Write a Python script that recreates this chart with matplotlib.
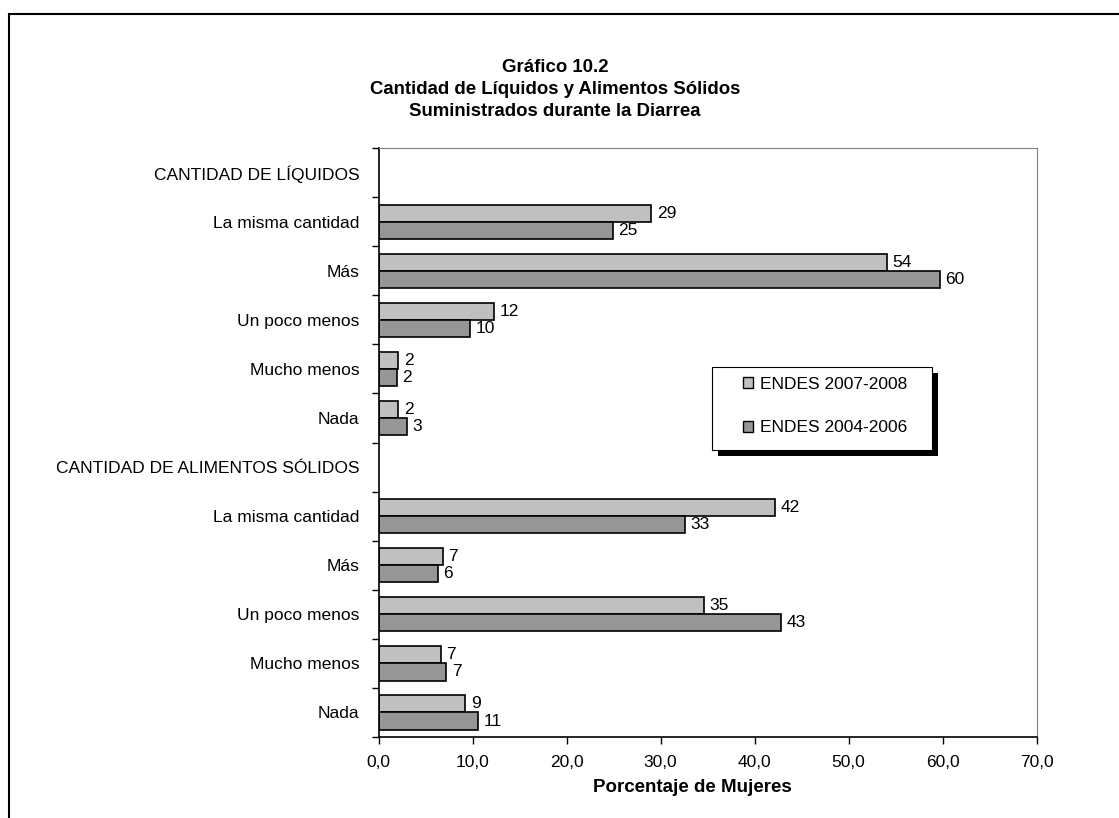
import matplotlib.pyplot as plt
from matplotlib.patches import Patch, Rectangle
import numpy as np

plt.rcParams['font.family'] = ['Liberation Sans', 'DejaVu Sans']

# Rows of the chart, top to bottom (headers have no bars)
categories = ['CANTIDAD DE LÍQUIDOS', 'La misma cantidad', 'Más', 'Un poco menos',
              'Mucho menos', 'Nada', 'CANTIDAD DE ALIMENTOS SÓLIDOS',
              'La misma cantidad', 'Más', 'Un poco menos', 'Mucho menos', 'Nada']
endes_2007 = [None, 29.0, 54.1, 12.3, 2.1, 2.1, None, 42.2, 6.8, 34.6, 6.6, 9.2]
endes_2004 = [None, 24.9, 59.7, 9.7, 1.9, 3.0, None, 32.6, 6.3, 42.8, 7.2, 10.6]
series_names = ['ENDES 2007-2008', 'ENDES 2004-2006']
x_ticks = [0, 10, 20, 30, 40, 50, 60, 70]

light = '#C0C0C0'
dark = '#969696'
fs = 12.5
W, H = 1119, 818

fig = plt.figure(figsize=(W / 100, H / 100), dpi=100)
ax = fig.add_axes([0.3384, 0.099, 0.588, 0.72])

h = 0.35
pos = np.arange(len(categories))
for i, (a, b) in enumerate(zip(endes_2007, endes_2004)):
    if a is None:
        continue
    ax.barh(pos[i] - h / 2, a, height=h, color=light, edgecolor='black', linewidth=1.2)
    ax.barh(pos[i] + h / 2, b, height=h, color=dark, edgecolor='black', linewidth=1.2)
    ax.annotate(f'{a:.0f}', (a, pos[i] - h / 2), xytext=(4, 0), textcoords='offset points',
                va='center', ha='left', fontsize=fs)
    ax.annotate(f'{b:.0f}', (b, pos[i] + h / 2), xytext=(4, 0), textcoords='offset points',
                va='center', ha='left', fontsize=fs)

ax.set_ylim(len(categories) - 0.5, -0.5)
ax.set_xlim(0, 70)
ax.set_yticks(pos)
ax.set_yticklabels(categories, fontsize=fs)
ax.set_yticks(np.arange(-0.5, len(categories)), minor=True)
ax.tick_params(axis='y', which='major', length=0, pad=14)
ax.tick_params(axis='y', which='minor', length=5, width=1, direction='out')
ax.set_xticks(x_ticks)
ax.set_xticklabels([f'{v:.1f}'.replace('.', ',') for v in x_ticks], fontsize=fs)
ax.tick_params(axis='x', length=5, width=1, direction='out', pad=8)

for s in ['top', 'right']:
    ax.spines[s].set_color('#808080')
for s in ['left', 'bottom']:
    ax.spines[s].set_color('black')
    ax.spines[s].set_linewidth(1.2)

fig.text(555 / W, 1 - 89.5 / H, 'Gráfico 10.2\nCantidad de Líquidos y Alimentos Sólidos\nSuministrados durante la Diarrea',
         ha='center', va='center', fontsize=13.4, fontweight='bold', linespacing=1.4)
fig.text(692 / W, 1 - 788 / H, 'Porcentaje de Mujeres', ha='center', va='center',
         fontsize=13.5, fontweight='bold')

# Legend box with a solid drop shadow
box = (712, 367, 932, 450)  # left, top, right, bottom in pixels
bw, bh = (box[2] - box[0]) / W, (box[3] - box[1]) / H
fig.patches.append(Rectangle((box[0] / W + 6 / W, 1 - box[3] / H - 6 / H), bw, bh,
                             transform=fig.transFigure, facecolor='black', zorder=1))
fig.patches.append(Rectangle((box[0] / W, 1 - box[3] / H), bw, bh, transform=fig.transFigure,
                             facecolor='white', edgecolor='black', linewidth=0.8, zorder=1))

handles = [Patch(facecolor=light, edgecolor='black'), Patch(facecolor=dark, edgecolor='black')]
leg = fig.legend(handles, series_names, loc='center', bbox_to_anchor=(825 / W, 1 - 406 / H),
                 fontsize=fs, frameon=False, handlelength=0.6, handleheight=0.6,
                 handletextpad=0.4, labelspacing=1.63, borderpad=0)
leg.set_zorder(3)

# Outer chart border (right and bottom edges fall outside the image)
fig.patches.append(Rectangle((9 / W, -0.05), 1.1, 1 - 14 / H + 0.05, transform=fig.transFigure,
                             fill=False, edgecolor='black', linewidth=1.5, zorder=0))

fig.savefig('out.png', dpi=100)
